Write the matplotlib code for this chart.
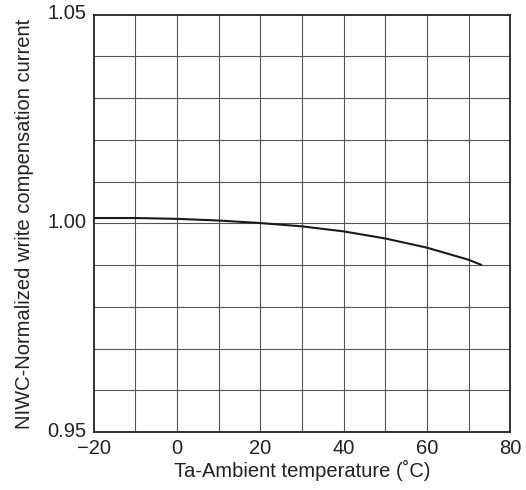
import matplotlib
matplotlib.use("Agg")
import matplotlib.pyplot as plt
import matplotlib.transforms as mtransforms

# valores
temperatura = [-20, -10, 0, 10, 20, 30, 40, 50, 60, 70, 73]
corriente = [1.0013, 1.0013, 1.0011, 1.0007, 1.0001, 0.9993, 0.9981, 0.9964, 0.9942, 0.9913, 0.9901]

x_ticks = [-20, 0, 20, 40, 60, 80]
y_ticks = [0.95, 1.00, 1.05]


def crear_grafica():
    plt.rcParams['font.family'] = ['Liberation Sans', 'DejaVu Sans']
    fig = plt.figure(figsize=(5.26, 4.90), dpi=100)
    ax = fig.add_axes([0.178, 0.118, 0.792, 0.852])

    # rejilla cada 10 grados y cada 0.01
    for xv in range(-10, 80, 10):
        ax.axvline(xv, color='#555555', lw=0.8, zorder=1)
    for i in range(1, 10):
        ax.axhline(0.95 + i * 0.01, color='#555555', lw=0.8, zorder=1)

    ax.plot(temperatura, corriente, color='#1a1a1a', lw=1.5, zorder=3)

    ax.set_xlim(-20, 80)
    ax.set_ylim(0.95, 1.05)
    ax.set_xticks(x_ticks)
    ax.set_yticks(y_ticks)
    ax.set_yticklabels(['0.95', '1.00', '1.05'])
    ax.tick_params(length=0, labelsize=14.5, colors='#222222')
    ax.tick_params(axis='x', pad=5)
    ax.tick_params(axis='y', pad=5)
    for s in ax.spines.values():
        s.set_linewidth(1.3)
        s.set_color('#222222')

    # subir un poco las etiquetas del eje y
    desplaz = mtransforms.ScaledTranslation(0, 3 / 100, fig.dpi_scale_trans)
    for lab in ax.get_yticklabels():
        lab.set_transform(lab.get_transform() + desplaz)

    ax.set_xlabel('Ta-Ambient temperature (˚C)', fontsize=14.5, color='#222222', labelpad=1)
    ax.set_ylabel('NIWC-Normalized write compensation current', fontsize=14.5,
                  color='#222222', labelpad=10)
    fig.savefig('out.png', dpi=100)


def main():
    crear_grafica()


if __name__ == "__main__":
    main()
